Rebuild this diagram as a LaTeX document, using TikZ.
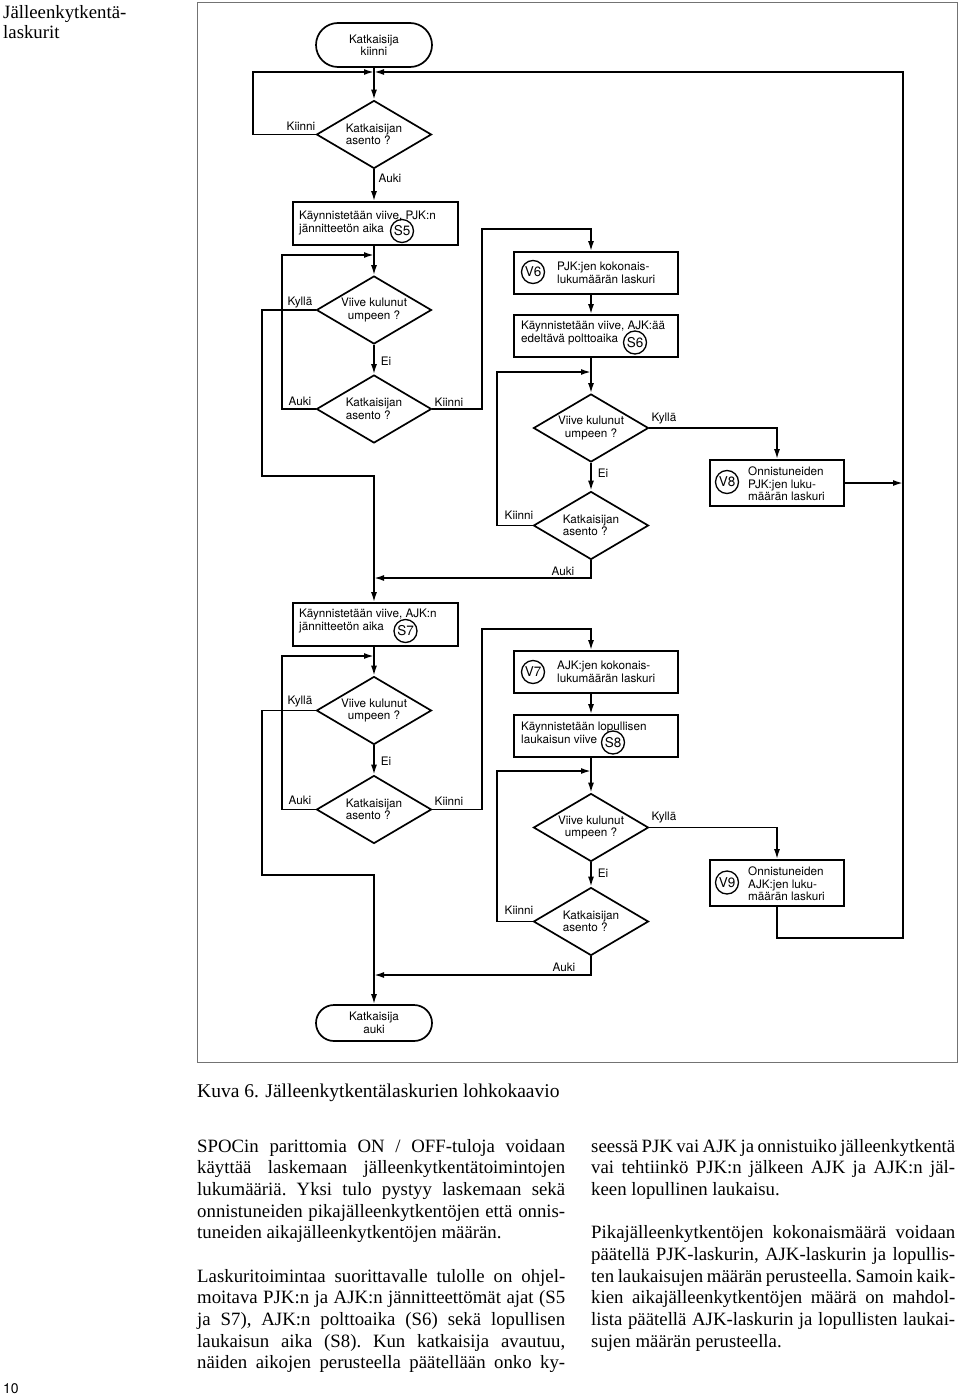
\documentclass[tikz,border=0pt]{standalone}
\usepackage{fontspec}
\usetikzlibrary{shapes.geometric,arrows.meta}
\newfontfamily\chartsans{TeX Gyre Heros}
\newfontfamily\bookserif{Liberation Serif}
\newcommand{\chartfont}{\chartsans\fontsize{11.7pt}{12.4pt}\selectfont}
\newcommand{\tagfont}{\chartsans\fontsize{13.5pt}{14pt}\selectfont}
\newcommand{\bookfont}{\bookserif\fontsize{18.8pt}{21.65pt}\selectfont\frenchspacing}
% justified line and last line of a paragraph
\newcommand{\jline}[2][368pt]{\makebox[#1][s]{\spaceskip=0pt\xspaceskip=0pt #2}}
\newcommand{\lline}[2][368pt]{\makebox[#1][l]{\spaceskip=0pt\xspaceskip=0pt #2}}
\newcommand{\topstrut}{\rule{0pt}{16pt}}

\begin{document}
\begin{tikzpicture}[x=1pt, y=-1pt, >={Latex[length=10pt,width=6pt]},
	conn/.style={line width=1.7pt},
	term/.style={draw, line width=1.7pt, minimum width=116pt, font=\chartfont, align=center},
	decision/.style={diamond, draw, line width=1.7pt, aspect=1.7, minimum width=115pt, minimum height=68pt, inner sep=0pt, font=\chartfont},
	procbox/.style={draw, line width=1.7pt, minimum width=164pt, minimum height=42pt},
	countbox/.style={draw, line width=1.7pt, minimum width=134pt, minimum height=46pt},
	boxtext/.style={anchor=west, inner sep=0pt, align=left, font=\chartfont},
	tag/.style={circle, draw, line width=1.3pt, minimum size=23pt, inner sep=0pt, font=\tagfont},
	lbl/.style={inner sep=0pt, font=\chartfont},
	booktext/.style={anchor=north west, inner sep=0pt, text width=368pt, align=flush left, font=\bookfont, execute at begin node={\parindent=0pt}}]
	\useasboundingbox (0,0) rectangle (960,1394);

	% frame
	\draw[black!55, line width=1pt] (197,3) rectangle (957,1062);

	% left column
	\node[term, minimum height=44pt, rounded corners=22pt] (start) at (374,45) {Katkaisija\\kiinni};
	\node[decision, align=left] (d1) at (374,134.5) {Katkaisijan\\asento ?};
	\node[procbox, minimum width=165pt, minimum height=43pt] (s5) at (375.5,223.5) {};
	\node[decision, align=center] (d2) at (374,310) {Viive kulunut\\umpeen ?};
	\node[decision, align=left] (d3) at (374,409) {Katkaisijan\\asento ?};
	\node[procbox, minimum width=165pt, minimum height=43pt] (s7) at (375.5,624.5) {};
	\node[decision, align=center] (d6) at (374,710.5) {Viive kulunut\\umpeen ?};
	\node[decision, align=left] (d8) at (374,809.5) {Katkaisijan\\asento ?};
	\node[term, minimum height=36pt, rounded corners=18pt] (stop) at (374,1023) {Katkaisija\\auki};

	% middle column
	\node[procbox] (v6) at (596,273) {};
	\node[procbox] (s6) at (596,336) {};
	\node[decision, align=center] (d4) at (591,428) {Viive kulunut\\umpeen ?};
	\node[decision, align=left] (d5) at (591,525.5) {Katkaisijan\\asento ?};
	\node[procbox] (v7) at (596,672) {};
	\node[procbox] (s8) at (596,736) {};
	\node[decision, align=center] (d9) at (591,827.5) {Viive kulunut\\umpeen ?};
	\node[decision, align=left] (d7) at (591,921.5) {Katkaisijan\\asento ?};

	% counters
	\node[countbox] (v8) at (777,483) {};
	\node[countbox] (v9) at (777,883) {};

	% box texts
	\node[boxtext] (s5t) at (299,223) {Käynnistetään viive, PJK:n\\jännitteetön aika};
	\node[boxtext] (s6t) at (521,333) {Käynnistetään viive, AJK:ää\\edeltävä polttoaika};
	\node[boxtext] (s7t) at (299,621) {Käynnistetään viive, AJK:n\\jännitteetön aika};
	\node[boxtext] (s8t) at (521,733) {Käynnistetään lopullisen\\laukaisun viive};
	\node[boxtext] (v6t) at (557,273) {PJK:jen kokonais-\\lukumäärän laskuri};
	\node[boxtext] (v7t) at (557,672) {AJK:jen kokonais-\\lukumäärän laskuri};
	\node[boxtext] (v8t) at (748,484) {Onnistuneiden\\PJK:jen luku-\\määrän laskuri};
	\node[boxtext] (v9t) at (748,884) {Onnistuneiden\\AJK:jen luku-\\määrän laskuri};

	% circled tags
	\node[tag] (s5c) at (402,231) {S5};
	\node[tag] (s6c) at (635,342.5) {S6};
	\node[tag] (s7c) at (405.5,631) {S7};
	\node[tag] (s8c) at (613,742.5) {S8};
	\node[tag] (v6c) at (533,272) {V6};
	\node[tag] (v7c) at (533,672) {V7};
	\node[tag] (v8c) at (727,482) {V8};
	\node[tag] (v9c) at (727,882.5) {V9};

	% junctions
	\coordinate (j1) at (374,72);
	\coordinate (j2) at (374,255);
	\coordinate (j3) at (374,476);
	\coordinate (j4) at (374,578);
	\coordinate (j5) at (374,656);
	\coordinate (j6) at (591,372);
	\coordinate (j7) at (374,875);
	\coordinate (j8) at (374,975);
	\coordinate (j9) at (591,771);
	\coordinate (k1) at (482,229);
	\coordinate (k2) at (482,629);
	\coordinate (r1) at (903,72);
	\coordinate (r2) at (903,938);

	% connectors, upper half
	\draw[conn,->] (start) -- (d1);
	\draw[conn,->] (d1.west) -- ++(-62.5,0) |- (j1);
	\draw[conn,->] (d1.south) -- (d1.south |- s5.north);
	\draw[conn,->] (s5.south -| d2.north) -- (d2.north);
	\draw[conn,->] (d2.west) -- ++(-54,0) |- (j3) -- (j3 |- s7.north);
	\draw[conn,->] (d2) -- (d3);
	\draw[conn,->] (d3.west) -- ++(-33.5,0) |- (j2);
	\draw[conn,->] (d3.east) -| (k1) -| (d4.north |- v6.north);
	\draw[conn,->] (d4.north |- v6.south) -- (d4.north |- s6.north);
	\draw[conn,->] (d4.north |- s6.south) -- (d4.north);
	\draw[conn,->] (d4.east) -| (v8.north);
	\draw[conn,->] (d4) -- (d5);
	\draw[conn,->] (d5.west) -- ++(-35.5,0) |- (j6);
	\draw[conn,->] (d5.south) |- (j4);
	\draw[conn,->] (v8.east) -- (v8.east -| r1);

	% connectors, lower half
	\draw[conn,->] (s7.south -| d6.north) -- (d6.north);
	\draw[conn,->] (d6.west) -- ++(-54,0) |- (j7) -- (stop.north);
	\draw[conn,->] (d6) -- (d8);
	\draw[conn,->] (d8.west) -- ++(-33.5,0) |- (j5);
	\draw[conn,->] (d8.east) -| (k2) -| (d9.north |- v7.north);
	\draw[conn,->] (d9.north |- v7.south) -- (d9.north |- s8.north);
	\draw[conn,->] (d9.north |- s8.south) -- (d9.north);
	\draw[conn,->] (d9.east) -| (v9.north);
	\draw[conn,->] (d9) -- (d7);
	\draw[conn,->] (d7.west) -- ++(-35.5,0) |- (j9);
	\draw[conn,->] (d7.south) |- (j8);
	\draw[conn,->] (v9.south) |- (r2) -- (r1) -- (j1);

	% branch labels
	\node[lbl] (l1) at (301,126.5) {Kiinni};
	\node[lbl] (l2) at (390,178) {Auki};
	\node[lbl] (l3) at (300,303) {Kyllä};
	\node[lbl] (l4) at (386,361) {Ei};
	\node[lbl] (l5) at (300,401) {Auki};
	\node[lbl] (l6) at (449,402) {Kiinni};
	\node[lbl] (l7) at (664,419) {Kyllä};
	\node[lbl] (l8) at (603,473) {Ei};
	\node[lbl] (l9) at (519,515) {Kiinni};
	\node[lbl] (l10) at (563,571) {Auki};
	\node[lbl] (l11) at (300,702) {Kyllä};
	\node[lbl] (l12) at (386,761) {Ei};
	\node[lbl] (l13) at (300,800) {Auki};
	\node[lbl] (l14) at (449,801) {Kiinni};
	\node[lbl] (l15) at (664,818) {Kyllä};
	\node[lbl] (l16) at (603,873) {Ei};
	\node[lbl] (l17) at (519,910) {Kiinni};
	\node[lbl] (l18) at (564,967) {Auki};

	% page text
	\node[booktext, text width=150pt, font=\bookserif\fontsize{18.8pt}{20pt}\selectfont] (title) at (3,2) {\topstrut\lline[150pt]{Jälleenkytkentä-}\\\lline[150pt]{laskurit}};
	\node[anchor=base west, inner sep=0pt, font=\bookserif\fontsize{19.5pt}{22pt}\selectfont] (caption) at (197,1097) {\spaceskip=0pt Kuva 6. Jälleenkytkentälaskurien lohkokaavio};
	\node[booktext] (para1) at (197,1136) {\topstrut\jline{SPOCin parittomia ON / OFF-tuloja voidaan}\\
		\jline{käyttää laskemaan jälleenkytkentätoimintojen}\\
		\jline{lukumääriä. Yksi tulo pystyy laskemaan sekä}\\
		\jline{onnistuneiden pikajälleenkytkentöjen että onnis-}\\
		\lline{tuneiden aikajälleenkytkentöjen määrän.}};
	\node[booktext] (para2) at (197,1265.9) {\topstrut\jline{Laskuritoimintaa suorittavalle tulolle on ohjel-}\\
		\jline{moitava PJK:n ja AJK:n jännitteettömät ajat (S5}\\
		\jline{ja S7), AJK:n polttoaika (S6) sekä lopullisen}\\
		\jline{laukaisun aika (S8). Kun katkaisija avautuu,}\\
		\jline{näiden aikojen perusteella päätellään onko ky-}};
	\node[booktext, text width=364pt] (para3) at (591,1136) {\topstrut\jline[364pt]{seessä PJK vai AJK ja onnistuiko jälleenkytkentä}\\
		\jline[364pt]{vai tehtiinkö PJK:n jälkeen AJK ja AJK:n jäl-}\\
		\lline[364pt]{keen lopullinen laukaisu.}};
	\node[booktext, text width=364pt] (para4) at (591,1222.6) {\topstrut\jline[364pt]{Pikajälleenkytkentöjen kokonaismäärä voidaan}\\
		\jline[364pt]{päätellä PJK-laskurin, AJK-laskurin ja lopullis-}\\
		\jline[364pt]{ten laukaisujen määrän perusteella. Samoin kaik-}\\
		\jline[364pt]{kien aikajälleenkytkentöjen määrä on mahdol-}\\
		\jline[364pt]{lista päätellä AJK-laskurin ja lopullisten laukai-}\\
		\lline[364pt]{sujen määrän perusteella.}};
	\node[anchor=base west, inner sep=0pt, font=\chartsans\fontsize{14pt}{16pt}\selectfont] (pageno) at (3,1393) {10};
\end{tikzpicture}
\end{document}
